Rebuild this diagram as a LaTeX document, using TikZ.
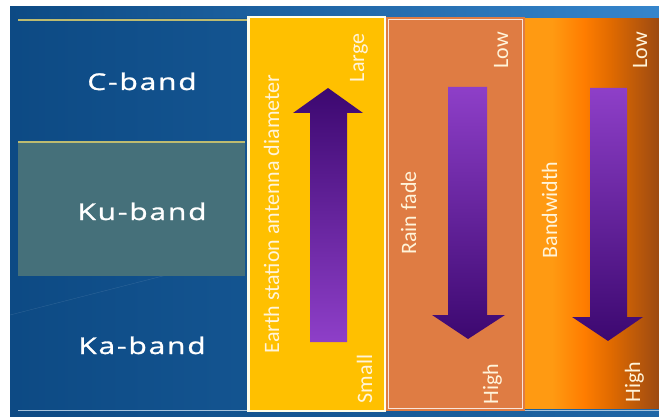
\documentclass[tikz,border=0pt]{standalone}
\usepackage{fontspec}
\setmainfont{Carlito}
\newfontfamily\bandfont[FakeStretch=1.3,LetterSpace=8,FakeBold=1.2]{Open Sans}
\definecolor{slidedark}{HTML}{0D4A84}
\definecolor{slidelight}{HTML}{1F66A6}
\definecolor{stripblue}{HTML}{3585CC}
\definecolor{kuteal}{HTML}{45707A}
\definecolor{rulegold}{HTML}{BDBB70}
\definecolor{antyellow}{HTML}{FFC000}
\definecolor{rainorange}{HTML}{DF7C43}
\definecolor{bwlight}{HTML}{FF9A12}
\definecolor{bwmid}{HTML}{FF7D00}
\definecolor{bwdeep}{HTML}{E06A00}
\definecolor{bwdark}{HTML}{9C4A12}
\definecolor{arrdark}{HTML}{3C0870}
\definecolor{arrlight}{HTML}{8E3FC8}
\definecolor{labelcream}{HTML}{FFF4DA}
\pgfdeclarehorizontalshading{bwshade}{100bp}{color(0bp)=(bwlight); color(25bp)=(bwlight);
  color(35bp)=(bwlight); color(47bp)=(bwmid); color(57bp)=(bwdeep); color(75bp)=(bwdark); color(100bp)=(bwdark)}
\tikzset{
  bandlabel/.style={text=white, font=\bandfont\fontsize{23}{28}\selectfont, anchor=base, inner sep=0pt},
  sidelabel/.style={text=labelcream, font=\fontsize{22}{26}\selectfont, rotate=90, anchor=base, inner sep=0pt}
}
\begin{document}
\begin{tikzpicture}[x=1pt, y=-1pt]
    \useasboundingbox (0,0) rectangle (659,417);
    % Slide background
    \fill[white] (0,0) rectangle (659,417);
    \shade[left color=slidedark, right color=slidelight] (10,7) rectangle (659,417);
    \shade[left color=slidedark, right color=stripblue] (10,7) rectangle (659,18);
    \draw[white, opacity=0.12] (10,315) -- (245,255);

    % Band rows (left)
    \fill[kuteal] (18,142) rectangle (245,276);
    \draw[rulegold, line width=1.2] (18,20) -- (247,20);
    \draw[rulegold, line width=1.2] (18,142) -- (245,142);
    \draw[white!60!slidelight, line width=1] (18,410) -- (659,410);
    \node[bandlabel] (cband) at (142,90) {C-band};
    \node[bandlabel] (kuband) at (142,220) {Ku-band};
    \node[bandlabel] (kaband) at (142,354) {Ka-band};

    % Columns
    \fill[white!92!yellow] (247,16) rectangle (386,412);
    \fill[antyellow] (249.5,18.5) rectangle (383.5,409.5);
    \fill[rainorange] (386,17) rectangle (525,411);
    \draw[white!80!rainorange, line width=1.1] (388.5,19.5) rectangle (522.5,408.5);
    \shade[shading=bwshade] (525,19) rectangle (659,408);

    % Arrows
    \shade[top color=arrdark, bottom color=arrlight]
      (310,342) -- (310,113) -- (293,113) -- (328,88) -- (363,113) -- (347,113) -- (347,342) -- cycle;
    \shade[top color=arrlight, bottom color=arrdark]
      (448,87) -- (448,315) -- (432,315) -- (468,339) -- (505,315) -- (487,315) -- (487,87) -- cycle;
    \shade[top color=arrlight, bottom color=arrdark]
      (590,88) -- (590,317) -- (572,317) -- (608,341) -- (643,317) -- (627,317) -- (627,88) -- cycle;

    % Column labels
    \node[sidelabel] (antenna) at (279,214) {Earth station antenna diameter};
    \node[sidelabel] (large) at (364,58) {Large};
    \node[sidelabel] (small) at (372,379) {Small};
    \node[sidelabel] (rainfade) at (416,213) {Rain fade};
    \node[sidelabel] (rainlow) at (508,50) {Low};
    \node[sidelabel] (rainhigh) at (498,384) {High};
    \node[sidelabel] (bandwidth) at (557,210) {Bandwidth};
    \node[sidelabel] (bwlow) at (647,50) {Low};
    \node[sidelabel] (bwhigh) at (640,382) {High};
\end{tikzpicture}
\end{document}
